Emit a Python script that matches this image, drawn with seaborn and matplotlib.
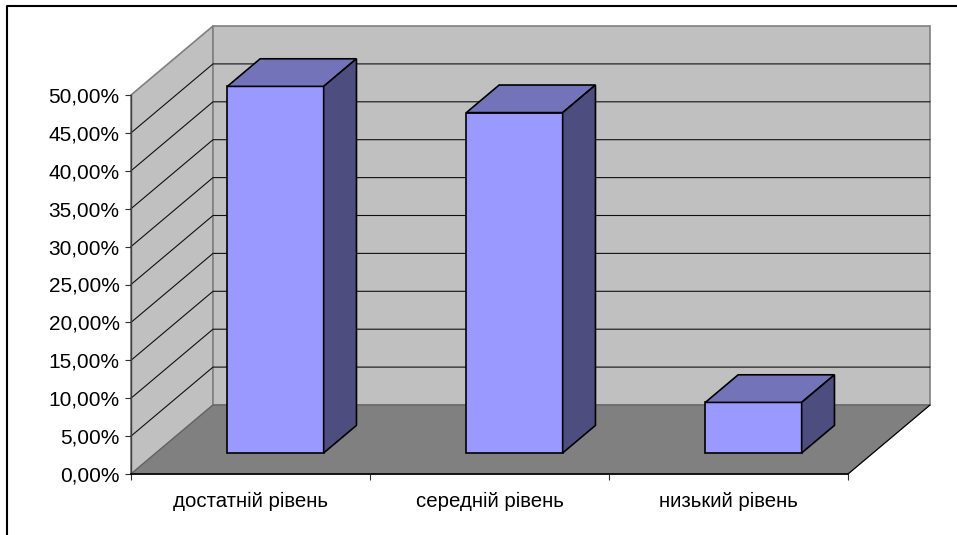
import matplotlib
matplotlib.use("Agg")
import matplotlib.pyplot as plt
import seaborn as sns
from matplotlib.lines import Line2D
from matplotlib.patches import Polygon

# Дані
categories = ["достатній рівень", "середній рівень", "низький рівень"]
values = [48.36, 44.9, 6.67]
y_ticks = [0, 5, 10, 15, 20, 25, 30, 35, 40, 45, 50]

sns.set_theme(style="white")
plt.rcParams["font.family"] = ["Liberation Sans", "DejaVu Sans"]

W, H = 957, 535
fig, ax = plt.subplots(figsize=(W / 100, H / 100), dpi=100)
ax.set_position([131 / W, (H - 474) / H, 717 / W, 379 / H])

# зсув глибини у одиницях даних
DX = 82 / (717 / 3)
DY = 69 / (379 / 50)
BAR_FRONT = 0.305
BAR_BACK = 0.705


def proj(x, y, d):
    return (x + DX * d, y + DY * d)


sns.barplot(x=categories, y=values, width=0.403, color="#9999FF", saturation=1,
            edgecolor="black", linewidth=1.2, ax=ax)
ax.set_xlim(-0.5, 2.5)
ax.set_ylim(0, 50)

# стіни і підлога
side = Polygon([proj(-0.5, 0, 0), proj(-0.5, 50, 0), proj(-0.5, 50, 1), proj(-0.5, 0, 1)],
               facecolor="#C0C0C0", edgecolor="#808080", lw=1.2, zorder=0.5, clip_on=False)
back = Polygon([proj(-0.5, 0, 1), proj(-0.5, 50, 1), proj(2.5, 50, 1), proj(2.5, 0, 1)],
               facecolor="#C0C0C0", edgecolor="#808080", lw=1.2, zorder=0.5, clip_on=False)
floor = Polygon([proj(-0.5, 0, 0), proj(2.5, 0, 0), proj(2.5, 0, 1), proj(-0.5, 0, 1)],
                facecolor="#808080", edgecolor="#606060", lw=0.8, zorder=0.6, clip_on=False)
ax.add_patch(side)
ax.add_patch(back)
ax.add_patch(floor)

# сітка
for t in y_ticks[1:-1]:
    x0, y0 = proj(-0.5, t, 0)
    x1, y1 = proj(-0.5, t, 1)
    x2, y2 = proj(2.5, t, 1)
    ax.plot([x0, x1, x2], [y0, y1, y2], color="#101010", lw=0.8, zorder=1, clip_on=False)

# стовпці: передня грань від seaborn, бокова і верхня добудовані
for patch in ax.patches:
    if patch in (side, back, floor):
        continue
    left, bottom = patch.get_x(), patch.get_y()
    w, h = patch.get_width(), patch.get_height()
    patch.set_xy(proj(left, bottom, BAR_FRONT))
    patch.set_zorder(3)
    patch.set_clip_on(False)
    right, top = left + w, bottom + h
    top_face = Polygon([proj(left, top, BAR_FRONT), proj(right, top, BAR_FRONT),
                        proj(right, top, BAR_BACK), proj(left, top, BAR_BACK)],
                       facecolor="#7373BA", edgecolor="black", lw=1.2, zorder=3, clip_on=False)
    side_face = Polygon([proj(right, bottom, BAR_FRONT), proj(right, top, BAR_FRONT),
                         proj(right, top, BAR_BACK), proj(right, bottom, BAR_BACK)],
                        facecolor="#4D4D7F", edgecolor="black", lw=1.2, zorder=3, clip_on=False)
    ax.add_patch(top_face)
    ax.add_patch(side_face)

# діагональ підлоги праворуч
ax.plot(*zip(proj(2.5, 0, 0), proj(2.5, 0, 1)), color="black", lw=0.8, zorder=1, clip_on=False)

# осі
for name in ["top", "right"]:
    ax.spines[name].set_visible(False)
ax.spines["left"].set_color("#404040")
ax.spines["left"].set_linewidth(1.0)
ax.spines["bottom"].set_color("black")
ax.spines["bottom"].set_linewidth(1.2)
for s in ax.spines.values():
    s.set_zorder(2)

ax.set_yticks(y_ticks)
ax.set_yticklabels([f"{t:.2f}".replace(".", ",") + "%" for t in y_ticks], fontsize=15, color="black")
ax.set_xticks([-0.5, 0.5, 1.5, 2.5])
ax.set_xticklabels([])
ax.set_xticks([0, 1, 2], minor=True)
ax.set_xticklabels(categories, minor=True, fontsize=14.7, color="black")
ax.tick_params(axis="y", which="major", left=True, length=4, width=0.8, color="#303030", pad=4.2)
ax.tick_params(axis="x", which="major", bottom=True, length=4.5, width=0.8, color="#303030")
ax.tick_params(axis="x", which="minor", bottom=False, length=0, pad=12.7)
ax.set_xlabel("")
ax.set_ylabel("")

# рамка області діаграми (лише зверху і зліва, решта обрізана)
fig.add_artist(Line2D([7 / W, 7 / W, 1], [0, 1 - 6 / H, 1 - 6 / H], color="black", lw=1.5))

fig.savefig("out.png", dpi=100)
